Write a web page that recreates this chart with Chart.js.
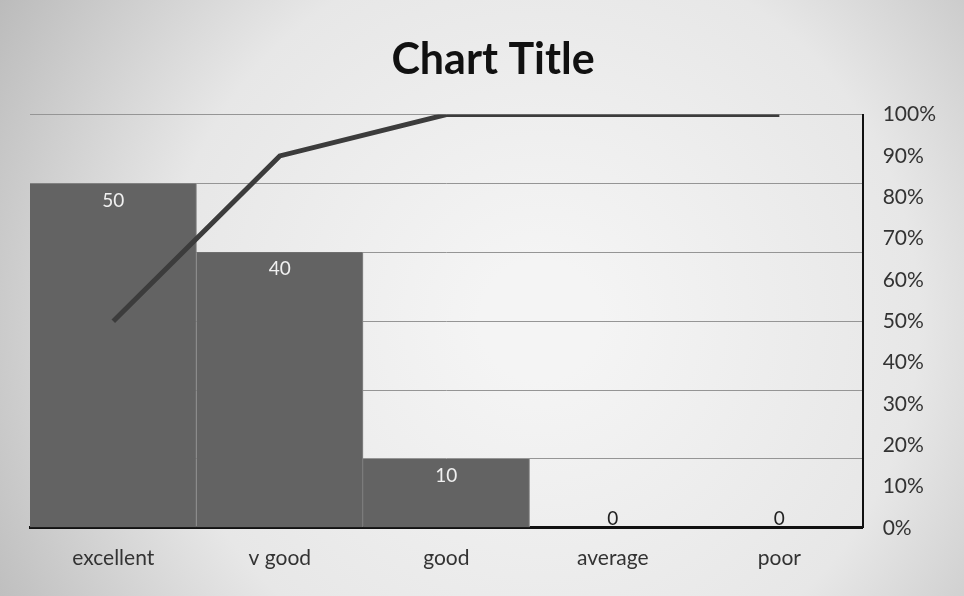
<!DOCTYPE html>
<html>
<head>
<meta charset="utf-8">
<script src="https://cdn.jsdelivr.net/npm/chart.js@4/dist/chart.umd.min.js"></script>
<style>
  html, body { margin: 0; padding: 0; background: #d6d6d6; }
  #wrap { width: 964px; height: 596px; }
</style>
</head>
<body>
<div id="wrap"><canvas id="myChart" width="964" height="596"></canvas></div>
<script>
// data
const categories = ['excellent', 'v good', 'good', 'average', 'poor'];
const counts = [50, 40, 10, 0, 0];
const cumulativePct = [50, 90, 100, 100, 100];

// photo-like gray background
const backdrop = {
    id: 'backdrop',
    beforeDraw(chart) {
        const ctx = chart.ctx;
        const g = ctx.createRadialGradient(540, 320, 60, 540, 320, 640);
        g.addColorStop(0, '#f4f4f4');
        g.addColorStop(0.55, '#e7e7e7');
        g.addColorStop(1, '#b9b9b9');
        ctx.save();
        ctx.fillStyle = g;
        ctx.fillRect(0, 0, chart.width, chart.height);
        ctx.restore();
    }
};

// value labels on the bars (inside end)
const barLabels = {
    id: 'barLabels',
    afterDatasetsDraw(chart) {
        const ctx = chart.ctx;
        const meta = chart.getDatasetMeta(1);
        ctx.save();
        ctx.font = '19px Lato';
        ctx.textAlign = 'center';
        ctx.textBaseline = 'middle';
        meta.data.forEach((bar, i) => {
            const v = counts[i];
            if (v > 0) {
                ctx.fillStyle = '#f0f0f0';
                ctx.fillText(v, bar.x, bar.y + 17);
            } else {
                ctx.fillStyle = '#222';
                ctx.fillText(v, bar.x, bar.base - 9);
            }
        });
        ctx.restore();
    }
};

new Chart(document.getElementById('myChart').getContext('2d'), {
    data: {
        labels: categories,
        datasets: [{
            type: 'line',
            data: cumulativePct,
            yAxisID: 'y2',
            borderColor: '#3c3c3c',
            borderWidth: 5,
            pointRadius: 0,
            tension: 0,
            order: 0
        }, {
            type: 'bar',
            data: counts,
            yAxisID: 'y',
            backgroundColor: '#636363',
            borderColor: '#8c8c8c',
            borderWidth: { right: 1 },
            categoryPercentage: 1,
            barPercentage: 1,
            order: 1
        }]
    },
    plugins: [backdrop, barLabels],
    options: {
        responsive: false,
        animation: false,
        layout: { padding: { left: 30, right: 8, top: 0, bottom: 7 } },
        plugins: {
            legend: { display: false },
            tooltip: { enabled: false },
            title: {
                display: true,
                text: 'Chart Title',
                color: '#111',
                font: { family: 'Lato', size: 43, weight: 'bold' },
                padding: { top: 34, bottom: 29 }
            }
        },
        scales: {
            x: {
                grid: { display: false, drawTicks: false },
                border: { color: '#111', width: 3 },
                ticks: { color: '#333', font: { family: 'Lato', size: 21 }, padding: 18 }
            },
            y: {
                position: 'left',
                min: 0,
                max: 60,
                ticks: { display: false, stepSize: 10 },
                grid: { color: '#959595', lineWidth: 1, drawTicks: false },
                border: { display: false }
            },
            y2: {
                position: 'right',
                min: 0,
                max: 100,
                ticks: {
                    stepSize: 10,
                    color: '#333',
                    font: { family: 'Lato', size: 21 },
                    padding: 20,
                    callback: v => v + '%'
                },
                grid: { display: false, drawTicks: false },
                border: { color: '#111', width: 2 }
            }
        }
    }
});
</script>
</body>
</html>
